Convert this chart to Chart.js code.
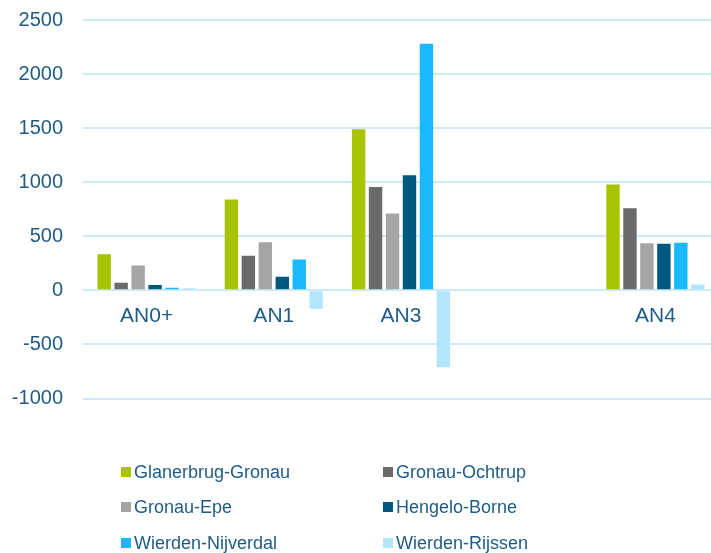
<!DOCTYPE html>
<html>
<head>
<meta charset="utf-8">
<script src="https://cdn.jsdelivr.net/npm/chart.js@4/dist/chart.umd.min.js"></script>
<style>
  html, body { margin: 0; padding: 0; background: #fff; overflow: hidden; }
  #wrap { position: relative; width: 720px; height: 553px; overflow: hidden; }
  #c { position: absolute; left: 0; top: -12px; }
  #legend { position: absolute; left: 0; top: 0; width: 720px; height: 553px; pointer-events: none;
            font-family: "Liberation Sans", Arial, sans-serif; font-size: 18px; color: #1f5c85; }
  .item { position: absolute; display: flex; align-items: center; white-space: nowrap; height: 22px; }
  .box { width: 10px; height: 10px; margin-right: 3px; }
</style>
</head>
<body>
<div id="wrap">
  <canvas id="c" width="720" height="565"></canvas>
  <div id="legend"></div>
</div>
<script>
// Categories (the blank slot keeps the spacing between AN3 and AN4)
const categories = ['AN0+', 'AN1', 'AN3', '', 'AN4'];

// Series values per category
const glanerbrugGronau = [335, 840, 1490, null, 980];
const gronauOchtrup    = [70, 320, 955, null, 760];
const gronauEpe        = [230, 445, 710, null, 435];
const hengeloBorne     = [50, 125, 1065, null, 430];
const wierdenNijverdal = [25, 285, 2280, null, 440];
const wierdenRijssen   = [20, -170, -710, null, 55];

const seriesNames = ['Glanerbrug-Gronau', 'Gronau-Ochtrup', 'Gronau-Epe', 'Hengelo-Borne', 'Wierden-Nijverdal', 'Wierden-Rijssen'];
const seriesColors = ['#a8c300', '#6a6a6a', '#a5a5a5', '#00587f', '#1ab8ff', '#b3e6fd'];
const seriesValues = [glanerbrugGronau, gronauOchtrup, gronauEpe, hengeloBorne, wierdenNijverdal, wierdenRijssen];

// Value axis ticks
const yTicks = [-1000, -500, 0, 500, 1000, 1500, 2000, 2500];

const textColor = '#1f5c85';
const gridColor = '#cdeaf9';

const chart = new Chart(document.getElementById('c'), {
  type: 'bar',
  data: {
    labels: categories,
    datasets: seriesNames.map((name, i) => ({
      label: name,
      data: seriesValues[i],
      backgroundColor: seriesColors[i],
      borderWidth: 0,
      barPercentage: 0.79,
      categoryPercentage: 0.8
    }))
  },
  options: {
    responsive: false,
    animation: false,
    devicePixelRatio: 1,
    layout: { padding: { top: 7, bottom: 154.5, left: 0, right: 1 } },
    plugins: { legend: { display: false }, tooltip: { enabled: false } },
    scales: {
      x: {
        position: { y: 0 },
        grid: { display: false, drawTicks: false },
        border: { display: false },
        ticks: {
          color: textColor,
          padding: 13,
          font: { family: '"Liberation Sans", Arial, sans-serif', size: 21 }
        }
      },
      y: {
        min: yTicks[0],
        max: yTicks[yTicks.length - 1],
        afterBuildTicks: (scale) => { scale.ticks = yTicks.map(v => ({ value: v })); },
        afterFit: (scale) => { scale.width = 83; },
        grid: { color: gridColor, lineWidth: 2, drawTicks: false },
        border: { display: false },
        ticks: {
          color: textColor,
          padding: 20,
          callback: (v) => String(v),
          font: { family: '"Liberation Sans", Arial, sans-serif', size: 20 }
        }
      }
    }
  }
});

// Two-column legend built from the chart's datasets
const legend = document.getElementById('legend');
const colX = [121, 383];
const rowY = [472, 507, 543];
chart.data.datasets.forEach((ds, i) => {
  const item = document.createElement('div');
  item.className = 'item';
  item.style.left = colX[i % 2] + 'px';
  item.style.top = (rowY[Math.floor(i / 2)] - 11) + 'px';
  const box = document.createElement('span');
  box.className = 'box';
  box.style.background = ds.backgroundColor;
  const txt = document.createElement('span');
  txt.textContent = ds.label;
  item.appendChild(box);
  item.appendChild(txt);
  legend.appendChild(item);
});
</script>
</body>
</html>
